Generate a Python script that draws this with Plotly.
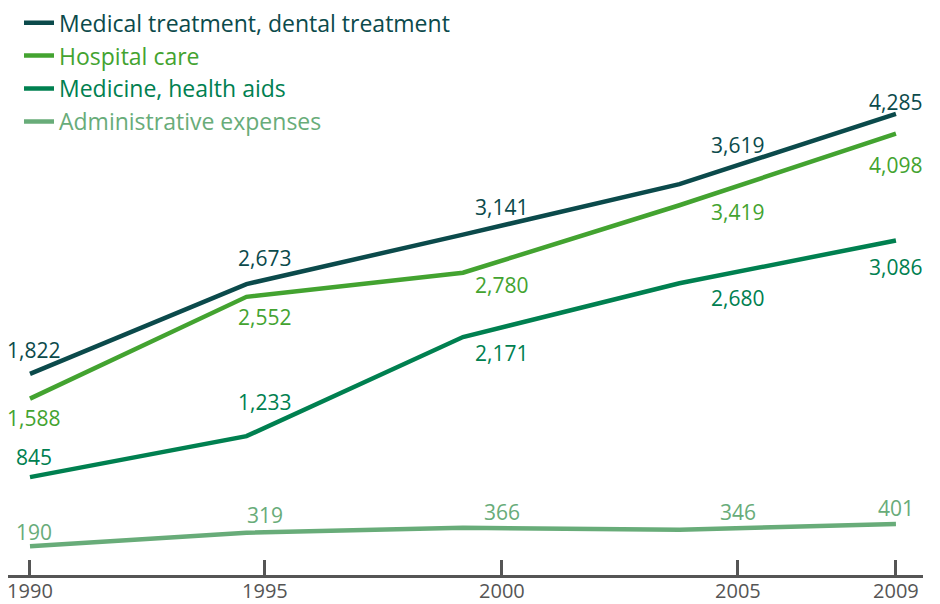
import plotly.graph_objects as go

years = ["1990", "1995", "2000", "2005", "2009"]
medical = [1822, 2673, 3141, 3619, 4285]
hospital = [1588, 2552, 2780, 3419, 4098]
medicine = [845, 1233, 2171, 2680, 3086]
admin = [190, 319, 366, 346, 401]

names = ["Medical treatment, dental treatment", "Hospital care",
         "Medicine, health aids", "Administrative expenses"]
series = [medical, hospital, medicine, admin]
colors = ["#0b4a4b", "#43a330", "#008050", "#68ac79"]

# label vertical offsets (px) per series / point
shifts = [
    [24, 26, 28, 39, 12],
    [-19, -20, -12, -7, -31],
    [20, 34, -16, -15, -27],
    [14, 18, 16, 18, 16],
]
# horizontal nudges (px) per point column
xshifts = [4, 0, 0, 0, 0]

x_idx = list(range(len(years)))
tick_pos = [0, 1.085, 2.18, 3.27, 4]

FONT = "Open Sans"
fig = go.Figure()
for name, vals, col in zip(names, series, colors):
    fig.add_trace(go.Scatter(
        x=x_idx, y=vals, mode="lines",
        name=f'<span style="color:{col}">{name}</span>',
        line=dict(color=col, width=4.5),
        hoverinfo="skip",
    ))

for vals, col, sh in zip(series, colors, shifts):
    for i, v in enumerate(vals):
        fig.add_annotation(
            x=tick_pos[i], y=v, text=f"{v:,}", showarrow=False,
            yshift=sh[i], xshift=xshifts[i],
            font=dict(family=FONT, size=21, color=col),
            xanchor="center", yanchor="middle",
        )

fig.update_layout(
    width=940, height=604,
    margin=dict(l=0, r=25, t=2, b=37, autoexpand=False),
    paper_bgcolor="white", plot_bgcolor="white",
    showlegend=True,
    legend=dict(
        x=0.0117, y=1.0155, xref="container", yref="paper",
        xanchor="left", yanchor="top",
        font=dict(family=FONT, size=23),
        traceorder="normal",
        itemclick=False, itemdoubleclick=False,
        bgcolor="rgba(0,0,0,0)",
    ),
    xaxis=dict(
        range=[-0.1016, 4.125], tickvals=tick_pos, ticktext=years,
        showline=True, linecolor="#555555", linewidth=2.5,
        ticks="inside", ticklen=15, tickwidth=2.5, tickcolor="#555555",
        showgrid=False, zeroline=False, ticklabelstandoff=-4,
        ticklabeloverflow="allow",
        tickfont=dict(family=FONT, size=20, color="#555555"),
    ),
    yaxis=dict(range=[-82, 5268], visible=False),
)

fig.write_html("out.html")
